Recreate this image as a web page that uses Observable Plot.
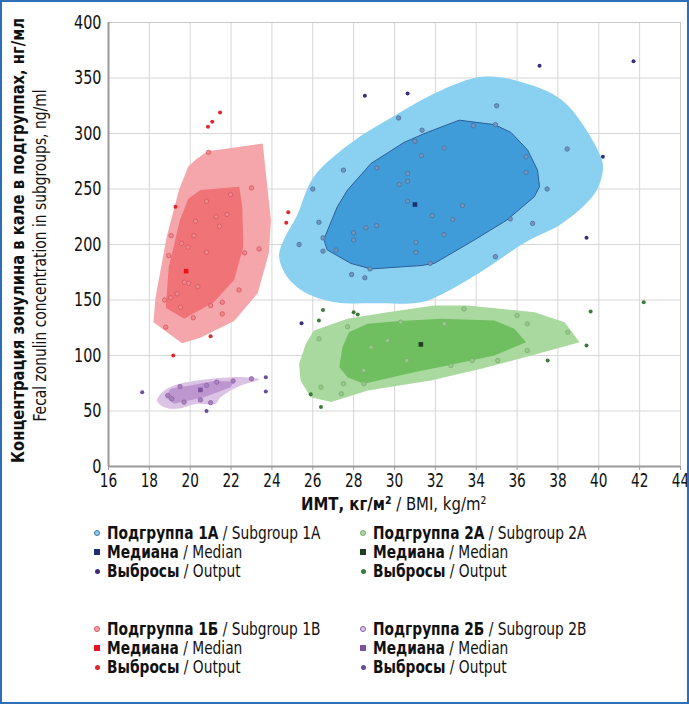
<!DOCTYPE html>
<html>
<head>
<meta charset="utf-8">
<script src="https://cdn.jsdelivr.net/npm/d3@7"></script>
<script src="https://cdn.jsdelivr.net/npm/@observablehq/plot@0.6"></script>
<style>
  html, body { margin: 0; padding: 0; background: #fff; }
  #wrap { position: relative; width: 689px; height: 704px; overflow: hidden; background: #fff;
          font-family: "DejaVu Sans Condensed", "DejaVu Sans", sans-serif; color: #111; }
  #border { position: absolute; left: 0; top: 0; width: 689px; height: 704px; box-sizing: border-box;
            border: 2px solid #2c6fb7; pointer-events: none; }
  #chart { position: absolute; left: 0; top: 0; }
  #xtitle { position: absolute; left: 108px; width: 572px; top: 495px; text-align: center; font-size: 18px; line-height: 18px; }
  #xtitle span { display: inline-block; transform: scaleX(0.92); }
  .leg { position: absolute; font-size: 17px; line-height: 20px; white-space: nowrap; transform: scaleX(0.9); transform-origin: 0 50%; }
  .mk { position: absolute; }
</style>
</head>
<body>
<div id="wrap">
  <div id="chart"></div>
  <div id="xtitle"><span><b>ИМТ, кг/м²</b> / BMI, kg/m²</span></div>
  <div id="legend"></div>
  <div id="border"></div>
</div>
<script>
// ---- tick labels ----
const xTicks = [16, 18, 20, 22, 24, 26, 28, 30, 32, 34, 36, 38, 40, 42, 44];
const yTicks = [0, 50, 100, 150, 200, 250, 300, 350, 400];
const yTitleBold = "Концентрация зонулина в кале в подгруппах, нг/мл";
const yTitleNormal = "Fecal zonulin concentration in subgroups, ng/ml";

// ---- Subgroup 1A (blue) ----
const blueOuter = [[24.35,190],[24.6,205],[25.2,225],[26.05,261],[27.9,292],[30.0,316],[31.95,336],[33.9,350],[35.0,351],[35.9,348],[37.7,336],[38.7,321],[40.1,279],[40.2,267],[39.8,246],[38.2,219],[36.5,203],[34.2,175],[32.3,155],[31.3,148],[29.0,147],[27.1,148],[25.6,157],[24.7,172]];
const blueInner = [[26.55,205],[27.2,234],[27.7,249],[28.85,273],[30.47,292],[31.6,301],[33.17,312],[34.89,308],[35.7,301],[36.52,285],[37.0,267],[37.1,252],[36.84,243],[35.5,222],[33.9,204],[31.95,183],[31.3,181],[28.85,178],[27.86,183],[26.72,195]];
const bluePts = [[35.0,325],[30.2,314],[31.35,303],[33.86,307],[34.94,308],[31.0,293],[32.43,287],[31.32,280],[29.13,269],[27.5,267],[30.64,264],[30.64,257],[30.23,254],[36.44,279],[36.44,265],[38.45,286],[37.47,250],[26.0,250],[30.64,239],[33.33,235],[31.85,226],[32.85,222.5],[35.67,223],[36.76,219],[29.13,217],[28.6,215],[26.3,220],[28.0,210.5],[28.0,204],[32.43,209],[26.5,206],[26.5,194],[27.14,195],[25.33,200],[31.05,202],[31.05,193],[31.75,183],[28.8,178],[27.9,173],[28.55,170],[34.94,189]];
const blueMedian = [[31.0,236]];
const blueOut = [[28.55,334],[30.64,336],[37.1,361],[40.2,279],[39.4,206],[41.7,365],[25.45,129]];

// ---- Subgroup 1Б (red) ----
const redOuter = [[19.9,270],[20.3,277],[20.85,284],[23.55,291],[23.95,222],[23.85,192],[23.3,156],[22.15,131],[20.5,116],[19.6,111],[18.2,130],[18.3,152],[18.85,207],[19.45,249]];
const redInner = [[20.5,249],[22.4,252],[22.55,234],[22.6,198],[22.15,168],[21.15,148],[19.7,133],[18.8,143],[18.95,180],[19.5,222],[19.9,241]];
const redPts = [[20.9,283],[23.0,251],[21.98,245],[20.8,239],[21.27,225],[21.8,227],[21.44,216.5],[20.26,221],[20.18,208],[19.07,208],[19.58,201],[19.89,197.6],[20.8,193],[18.95,190],[22.66,192.5],[23.37,196],[19.72,166],[19.93,165],[20.37,162],[22.39,159],[19.36,155.6],[19.04,152],[18.75,150],[19.53,143.5],[21.57,148],[21.0,145],[21.57,137.5],[20.15,134],[18.8,125.5]];
const redMedian = [[19.8,176]];
const redOut = [[21.46,319],[21.08,310.5],[20.87,306],[19.28,234],[24.8,229],[24.7,219.5],[21.0,117.4],[19.17,100]];

// ---- Subgroup 2A (green) ----
const greenOuter = [[26.06,122.5],[27.7,133],[29.66,139],[31.94,145],[33.58,145],[36.85,139],[38.33,130],[39.06,112],[36.7,100],[34.24,88],[31.78,77.5],[28.7,68.5],[26.9,58],[25.9,62.4],[25.4,77.5],[25.33,92.5],[25.66,110.5]];
const greenInner = [[27.45,107.5],[27.77,121],[28.68,128.5],[30.3,131],[32.27,133],[34.89,131.5],[35.87,124],[36.44,112],[34.89,100],[32.6,91],[30.96,85],[28.5,74.5],[27.7,80.5],[27.3,89.5]];
const greenPts = [[26.3,115],[27.7,126],[30.3,130],[32.44,128.5],[33.4,142],[36.0,136],[36.5,128.5],[38.48,121],[28.85,107.5],[29.66,113.5],[28.5,86.5],[30.6,95.5],[33.8,95.5],[35.05,95.5],[36.5,104.5],[26.4,71.5],[27.4,65.5],[27.5,74.5],[28.5,74.5],[32.76,91]];
const greenMedian = [[31.29,110]];
const greenOut = [[26.5,141],[26.3,131.5],[28.0,139],[28.2,137],[39.6,139.6],[39.4,109],[37.5,95.5],[25.9,65],[26.4,53.5],[42.2,148]];

// ---- Subgroup 2Б (purple) ----
const purpleOuter = [[18.38,59.5],[18.63,67],[19.2,73],[20.34,77.5],[21.98,80.5],[22.96,80],[23.37,78.4],[22.47,73],[21.49,62.4],[21.24,56.5],[20.34,56.5],[19.36,52],[18.7,53.5]];
const purpleInner = [[18.8,62.4],[19.04,70],[20.0,73],[21.16,77],[22.14,76.6],[21.98,71.5],[20.67,62.4],[19.2,56.5]];
const purplePts = [[19.1,61],[19.5,72],[20.8,73],[21.3,76],[22.1,77],[20.5,60],[21.0,57.5],[19.7,58],[23.0,79],[18.9,64]];
const purpleMedian = [[20.5,69]];
const purpleOut = [[17.65,67],[23.7,80.5],[23.7,67.5],[20.8,50]];

// ---- colours ----
const C = {
  blue:   {outer: "#8ad0f0", inner: "#3f9cd8", edge: "#2d5d97", pt: "#6f96c0", ptS: "#49709d", med: "#1c2f72", out: "#3b2d7c", curve: "catmull-rom-closed"},
  red:    {outer: "#f4a6aa", inner: "#ef7377", edge: "none",    pt: "#ec8a8f", ptS: "#d9535b", med: "#e8141c", out: "#e3262c", curve: "linear-closed"},
  green:  {outer: "#a9d99e", inner: "#6fbf60", edge: "none",    pt: "#96c98a", ptS: "#79ad6c", med: "#1f3f1f", out: "#3a7a3a", curve: "linear-closed"},
  purple: {outer: "#dac3e4", inner: "#bd95cf", edge: "none",    pt: "#a983bd", ptS: "#8b62a4", med: "#7d52a0", out: "#6a4c9c", curve: "catmull-rom-closed"}
};

function hullMarks(outer, inner, c) {
  return [
    Plot.line(outer, {x: d => d[0], y: d => d[1], curve: c.curve, fill: c.outer, stroke: "none"}),
    Plot.line(inner, {x: d => d[0], y: d => d[1], curve: "linear-closed", fill: c.inner, stroke: c.edge, strokeWidth: 1})
  ];
}
function pointMarks(pts, med, out, c) {
  return [
    Plot.dot(pts, {x: d => d[0], y: d => d[1], r: 2.2, fill: c.pt, stroke: c.ptS, strokeWidth: 0.8}),
    Plot.dot(out, {x: d => d[0], y: d => d[1], r: 2, fill: c.out, stroke: "none"}),
    Plot.dot(med, {x: d => d[0], y: d => d[1], r: 2.6, symbol: "square", fill: c.med, stroke: "none"})
  ];
}

const chart = Plot.plot({
  width: 689,
  height: 510,
  marginLeft: 108,
  marginRight: 9,
  marginTop: 22,
  marginBottom: 44,
  style: {fontFamily: '"DejaVu Sans Condensed", "DejaVu Sans", sans-serif', fontSize: "19px", color: "#111", background: "transparent"},
  x: {domain: [16, 44]},
  y: {domain: [0, 400]},
  marks: [
    Plot.gridX(xTicks, {stroke: "#d6d6d6", strokeOpacity: 1}),
    Plot.gridY(yTicks, {stroke: "#d6d6d6", strokeOpacity: 1}),
    Plot.frame({stroke: "#c8c8c8"}),
    ...hullMarks(blueOuter, blueInner, C.blue),
    ...hullMarks(redOuter, redInner, C.red),
    ...hullMarks(greenOuter, greenInner, C.green),
    ...hullMarks(purpleOuter, purpleInner, C.purple),
    ...pointMarks(bluePts, blueMedian, blueOut, C.blue),
    ...pointMarks(redPts, redMedian, redOut, C.red),
    ...pointMarks(greenPts, greenMedian, greenOut, C.green),
    ...pointMarks(purplePts, purpleMedian, purpleOut, C.purple),
    Plot.ruleX([16], {stroke: "#9a9a9a", strokeWidth: 2}),
    Plot.ruleY([0], {stroke: "#9a9a9a", strokeWidth: 2}),
    Plot.axisX(xTicks, {tickSize: 4, tickPadding: 3, stroke: "#9a9a9a", label: null, fontSize: 19}),
    Plot.axisY(yTicks, {tickSize: 0, tickPadding: 7, label: null, fontSize: 20}),
    Plot.text([yTitleBold], {frameAnchor: "left", textAnchor: "middle", dx: -90, dy: -4, rotate: -90, fontWeight: "bold", fontSize: 17, text: d => d}),
    Plot.text([yTitleNormal], {frameAnchor: "left", textAnchor: "middle", dx: -68, dy: 11, rotate: -90, fontSize: 17, text: d => d})
  ]
});
document.getElementById("chart").appendChild(chart);

// The reference uses a condensed face: compress texts with textLength (measured after insertion)
d3.select(chart).selectAll('g[aria-label="x-axis tick label"] text, g[aria-label="y-axis tick label"] text')
  .each(function() {
    const w = this.getComputedTextLength();
    if (w > 0) { this.setAttribute("textLength", (w * 0.8).toFixed(1)); this.setAttribute("lengthAdjust", "spacingAndGlyphs"); }
  });
d3.select(chart).selectAll("text").each(function() {
  const s = this.textContent;
  if (s === yTitleBold) { this.setAttribute("textLength", 445); this.setAttribute("lengthAdjust", "spacingAndGlyphs"); }
  if (s === yTitleNormal) { this.setAttribute("textLength", 332); this.setAttribute("lengthAdjust", "spacingAndGlyphs"); }
});

// ---- legend ----
const legendBold = ["Подгруппа 1А", "Медиана", "Выбросы", "Подгруппа 2А", "Медиана", "Выбросы",
                    "Подгруппа 1Б", "Медиана", "Выбросы", "Подгруппа 2Б", "Медиана", "Выбросы"];
const legendNormal = ["Subgroup 1A", "Median", "Output", "Subgroup 2A", "Median", "Output",
                      "Subgroup 1B", "Median", "Output", "Subgroup 2B", "Median", "Output"];
const legendGroup = ["blue", "blue", "blue", "green", "green", "green", "red", "red", "red", "purple", "purple", "purple"];
const legendKind = ["pt", "med", "out", "pt", "med", "out", "pt", "med", "out", "pt", "med", "out"];
const colX = [97, 363];
const rowY = [[532, 551, 570], [628, 647, 666]];
const leg = document.getElementById("legend");
legendBold.forEach((b, i) => {
  const block = Math.floor(i / 6);
  const col = Math.floor((i % 6) / 3);
  const row = i % 3;
  const cx = colX[col], cy = rowY[block][row];
  const c = C[legendGroup[i]];
  const kind = legendKind[i];
  const m = document.createElement("div");
  m.className = "mk";
  let s;
  if (kind === "pt") { s = 6; m.style.borderRadius = "50%"; m.style.background = c.outer; m.style.border = "1px solid " + c.ptS; m.style.boxSizing = "border-box"; }
  else if (kind === "med") { s = 6; m.style.background = c.med; }
  else { s = 5; m.style.borderRadius = "50%"; m.style.background = c.out; }
  m.style.width = s + "px"; m.style.height = s + "px";
  m.style.left = (cx - s / 2) + "px"; m.style.top = (cy - s / 2 + 1) + "px";
  leg.appendChild(m);
  const t = document.createElement("div");
  t.className = "leg";
  t.style.left = (cx + 10) + "px";
  t.style.top = (cy - 9) + "px";
  t.innerHTML = "<b>" + b + "</b> / " + legendNormal[i];
  leg.appendChild(t);
});
</script>
</body>
</html>
